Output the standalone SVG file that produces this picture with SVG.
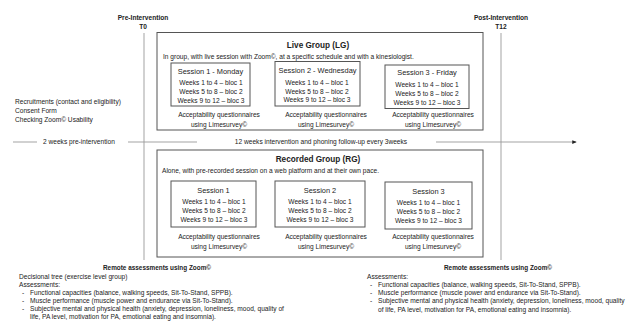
<svg xmlns="http://www.w3.org/2000/svg" width="633" height="325" viewBox="0 0 633 325">
<defs>
<style>
text{font-family:"Liberation Sans",Arial,sans-serif;fill:#222;font-size:6.6px}
.c{text-anchor:middle}
.b{font-weight:bold}
.t{font-size:8.2px;font-weight:bold}
.hd{font-size:6.4px;font-weight:bold}
.box{fill:#fff;stroke:#555;stroke-width:1}
.sbox{fill:#fff;stroke:#555;stroke-width:1}
.ln{stroke:#999;stroke-width:0.9;fill:none}
.st{font-size:7.4px}
</style>
<marker id="ah" viewBox="0 0 6 6" refX="5" refY="3" markerWidth="5" markerHeight="5" orient="auto"><path d="M0,0.5 L6,3 L0,5.5 z" fill="#222"/></marker>
</defs>
<rect width="633" height="325" fill="#fff"/>
<g id="connectors">
<line class="ln" x1="144" y1="33" x2="144" y2="260"/>
<line class="ln" x1="501" y1="33" x2="501" y2="260"/>
<line class="ln" x1="13" y1="142" x2="37" y2="142"/>
<line class="ln" x1="128" y1="142" x2="197" y2="142"/>
<line class="ln" x1="436" y1="142" x2="576" y2="142" marker-end="url(#ah)"/>
</g>
<g id="pre-intervention">
<text class="c b" x="143" y="19.5">Pre-Intervention</text>
<text class="c b" x="143" y="28.5">T0</text>
</g>
<g id="post-intervention">
<text class="c b" x="501" y="19.5">Post-Intervention</text>
<text class="c b" x="501" y="28.5">T12</text>
</g>
<g id="recruitment">
<text x="15" y="103.5">Recruitments (contact and eligibility)</text>
<text x="15" y="112.5">Consent Form</text>
<text x="15" y="121.5">Checking Zoom© Usability</text>
</g>
<g id="timeline-labels">
<text x="43" y="144.3">2 weeks pre-intervention</text>
<text class="c" x="321" y="144.3">12 weeks intervention and phoning follow-up every 3weeks</text>
</g>
<g id="live-group">
<rect class="box" x="157" y="32.5" width="326" height="97.5"/>
<text class="c t" x="318" y="48">Live Group (LG)</text>
<text x="163" y="59">In group, with live session with Zoom©, at a specific schedule and with a kinesiologist.</text>
</g>
<g id="lg-session1">
<rect class="sbox" x="171" y="63" width="79" height="43"/>
<text class="c st" x="210.5" y="73.5">Session 1 - Monday</text>
<text class="c" x="211" y="85.3">Weeks 1 to 4 – bloc 1</text>
<text class="c" x="211" y="94.3">Weeks 5 to 8 – bloc 2</text>
<text class="c" x="211" y="103.3">Weeks 9 to 12 – bloc 3</text>
<text class="c" x="219" y="117.3">Acceptability questionnaires</text>
<text class="c" x="219" y="127">using Limesurvey©</text>
</g>
<g id="lg-session2">
<rect class="sbox" x="275" y="61.5" width="85" height="44.5"/>
<text class="c st" x="317.5" y="72.5">Session 2 - Wednesday</text>
<text class="c" x="317" y="84.5">Weeks 1 to 4 – bloc 1</text>
<text class="c" x="317" y="93.5">Weeks 5 to 8 – bloc 2</text>
<text class="c" x="317" y="102">Weeks 9 to 12 – bloc 3</text>
<text class="c" x="326" y="117.3">Acceptability questionnaires</text>
<text class="c" x="326" y="127">using Limesurvey©</text>
</g>
<g id="lg-session3">
<rect class="sbox" x="385" y="65" width="84" height="43.5"/>
<text class="c st" x="427" y="74.5">Session 3 - Friday</text>
<text class="c" x="427" y="87">Weeks 1 to 4 – bloc 1</text>
<text class="c" x="427" y="96">Weeks 5 to 8 – bloc 2</text>
<text class="c" x="427" y="104.5">Weeks 9 to 12 – bloc 3</text>
<text class="c" x="433" y="117.3">Acceptability questionnaires</text>
<text class="c" x="433" y="127">using Limesurvey©</text>
</g>
<g id="recorded-group">
<rect class="box" x="157" y="150" width="326" height="107"/>
<text class="c t" x="318" y="162">Recorded Group (RG)</text>
<text x="162" y="173.3">Alone, with pre-recorded session on a web platform and at their own pace.</text>
</g>
<g id="rg-session1">
<rect class="sbox" x="171" y="181" width="85" height="46"/>
<text class="c st" x="213.5" y="192.5">Session 1</text>
<text class="c" x="214" y="204.3">Weeks 1 to 4 – bloc 1</text>
<text class="c" x="214" y="213.3">Weeks 5 to 8 – bloc 2</text>
<text class="c" x="214" y="222.3">Weeks 9 to 12 – bloc 3</text>
<text class="c" x="219" y="239.3">Acceptability questionnaires</text>
<text class="c" x="219" y="249">using Limesurvey©</text>
</g>
<g id="rg-session2">
<rect class="sbox" x="275" y="181" width="90" height="46"/>
<text class="c st" x="320" y="192.5">Session 2</text>
<text class="c" x="320" y="204.3">Weeks 1 to 4 – bloc 1</text>
<text class="c" x="320" y="213.3">Weeks 5 to 8 – bloc 2</text>
<text class="c" x="320" y="222.3">Weeks 9 to 12 – bloc 3</text>
<text class="c" x="326" y="239.3">Acceptability questionnaires</text>
<text class="c" x="326" y="249">using Limesurvey©</text>
</g>
<g id="rg-session3">
<rect class="sbox" x="385" y="182" width="87" height="47"/>
<text class="c st" x="428.5" y="193.5">Session 3</text>
<text class="c" x="428.5" y="205.3">Weeks 1 to 4 – bloc 1</text>
<text class="c" x="428.5" y="214.3">Weeks 5 to 8 – bloc 2</text>
<text class="c" x="428.5" y="223.3">Weeks 9 to 12 – bloc 3</text>
<text class="c" x="433" y="239.3">Acceptability questionnaires</text>
<text class="c" x="433" y="249">using Limesurvey©</text>
</g>
<g id="assessments-t0">
<text class="c hd" x="157" y="270">Remote assessments using Zoom©</text>
<text x="19" y="278.5">Decisional tree (exercise level group)</text>
<text x="19" y="286.5">Assessments:</text>
<text x="22" y="295.3">-</text>
<text x="30" y="295.3">Functional capacities (balance, walking speeds, Sit-To-Stand, SPPB).</text>
<text x="22" y="303.3">-</text>
<text x="30" y="303.3">Muscle performance (muscle power and endurance via Sit-To-Stand).</text>
<text x="22" y="311.3">-</text>
<text x="30" y="311.3">Subjective mental and physical health (anxiety, depression, loneliness, mood, quality of</text>
<text x="30" y="319.3">life, PA level, motivation for PA, emotional eating and insomnia).</text>
</g>
<g id="assessments-t12">
<text class="c hd" x="498" y="270">Remote assessments using Zoom©</text>
<text x="367" y="278.5">Assessments:</text>
<text x="370" y="287.3">-</text>
<text x="378" y="287.3">Functional capacities (balance, walking speeds, Sit-To-Stand, SPPB).</text>
<text x="370" y="295.3">-</text>
<text x="378" y="295.3">Muscle performance (muscle power and endurance via Sit-To-Stand).</text>
<text x="370" y="303.3">-</text>
<text x="378" y="303.3">Subjective mental and physical health (anxiety, depression, loneliness, mood, quality</text>
<text x="378" y="312">of life, PA level, motivation for PA, emotional eating and insomnia).</text>
</g>
</svg>
